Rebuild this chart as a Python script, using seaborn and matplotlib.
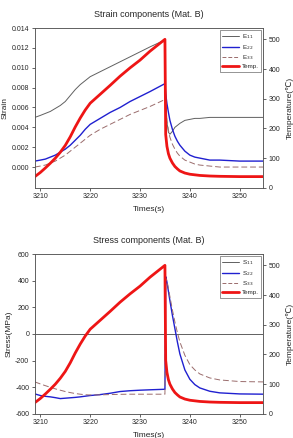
import numpy as np
import pandas as pd
import matplotlib
matplotlib.use('Agg')
import matplotlib.pyplot as plt
import seaborn as sns

sns.set_style('ticks')
plt.rcParams['font.family'] = ['Liberation Sans', 'DejaVu Sans']
plt.rcParams['font.size'] = 5

# shared time grid (s)
time = [3208.9, 3210, 3211, 3212, 3213, 3214, 3215, 3216, 3217, 3218, 3219, 3220,
        3222, 3224, 3226, 3228, 3230, 3232, 3235, 3235.15, 3235.4, 3235.7, 3236,
        3236.5, 3237, 3237.5, 3238, 3239, 3240, 3241, 3242, 3244, 3246, 3250, 3255]

temp = [38, 52, 67, 83, 100, 120, 143, 172, 205, 235, 262, 285,
        315, 345, 376, 404, 430, 460, 500, 180, 140, 115, 100,
        84, 72, 64, 57, 50, 46, 44, 42, 40, 39, 38, 38]

e11 = [0.0050, 0.0052, 0.0054, 0.0056, 0.0059, 0.0062, 0.0066, 0.0072, 0.0078, 0.0083, 0.0087, 0.0091,
       0.0096, 0.0101, 0.0106, 0.0111, 0.0116, 0.0121, 0.0128, 0.0075, 0.0045, 0.0035, 0.0033,
       0.0036, 0.0040, 0.0042, 0.0044, 0.0047, 0.0048, 0.0049, 0.0049, 0.0050, 0.0050, 0.0050, 0.0050]
e22 = [0.0006, 0.0007, 0.0008, 0.0010, 0.0012, 0.0015, 0.0018, 0.0022, 0.0027, 0.0032, 0.0038, 0.0043,
       0.0049, 0.0055, 0.0060, 0.0066, 0.0071, 0.0076, 0.0084, 0.0074, 0.0064, 0.0055, 0.0047,
       0.0038, 0.0031, 0.0026, 0.0022, 0.0016, 0.0012, 0.0010, 0.0009, 0.0007, 0.0007, 0.0006, 0.0006]
e33 = [0.0000, 0.0001, 0.0002, 0.0004, 0.0006, 0.0009, 0.0012, 0.0016, 0.0020, 0.0024, 0.0028, 0.0032,
       0.0038, 0.0043, 0.0048, 0.0053, 0.0057, 0.0061, 0.0068, 0.0058, 0.0047, 0.0037, 0.0030,
       0.0023, 0.0018, 0.0014, 0.0011, 0.0007, 0.0005, 0.0003, 0.0002, 0.0001, 0.0000, 0.0000, 0.0000]

s11 = [0] * len(time)
s22 = [-450, -462, -468, -472, -478, -485, -482, -479, -476, -472, -467, -462,
       -455, -445, -432, -426, -422, -419, -415, 430, 390, 320, 250,
       140, 40, -60, -150, -270, -340, -380, -405, -430, -442, -450, -452]
s33 = [-360, -375, -388, -400, -412, -422, -432, -440, -447, -452, -456, -458,
       -457, -455, -453, -452, -452, -452, -452, 420, 400, 340, 280,
       180, 90, 10, -60, -160, -230, -270, -300, -330, -345, -357, -360]

df = pd.DataFrame({'time': time, 'temp': temp, 'e11': e11, 'e22': e22, 'e33': e33,
                   's11': s11, 's22': s22, 's33': s33})

c_gray = '#606060'
c_blue = '#2020d0'
c_dash = '#9a6c6c'
c_red = '#ee1515'

fig = plt.figure(figsize=(2.93, 4.38), dpi=100)


def panel(rect, cols, labels, title, ylabel, ylim, yticks, fmt):
    ax = fig.add_axes(rect)
    sns.lineplot(data=df, x='time', y=cols[0], ax=ax, color=c_gray, lw=0.7)
    sns.lineplot(data=df, x='time', y=cols[1], ax=ax, color=c_blue, lw=1.0)
    sns.lineplot(data=df, x='time', y=cols[2], ax=ax, color=c_dash, lw=0.7, linestyle=(0, (6, 3)))
    ax.set_xlim(3208.9, 3254.7)
    ax.set_ylim(*ylim)
    ax.set_yticks(yticks)
    ax.set_yticklabels([fmt.format(v) for v in yticks])
    ax.set_xticks([3210, 3220, 3230, 3240, 3250])
    ax.set_xlabel('Times(s)', fontsize=6, labelpad=4)
    ax.set_ylabel(ylabel, fontsize=6, labelpad=2)
    ax.set_title(title, fontsize=6.5, pad=8)
    ax.tick_params(length=2, width=0.5, labelsize=5, pad=2)

    ax2 = ax.twinx()
    sns.lineplot(data=df, x='time', y='temp', ax=ax2, color=c_red, lw=2.0)
    ax2.set_ylim(0, 538)
    ax2.set_yticks([0, 100, 200, 300, 400, 500])
    ax2.set_ylabel('Temperature(\u2103)', fontsize=6, labelpad=4)
    ax2.tick_params(length=2, width=0.5, labelsize=5, pad=2)
    for a in (ax, ax2):
        for s in a.spines.values():
            s.set_linewidth(0.5)
            s.set_color('#555555')

    handles = [plt.Line2D([], [], color=c_gray, lw=0.7),
               plt.Line2D([], [], color=c_blue, lw=1.0),
               plt.Line2D([], [], color=c_dash, lw=0.7, linestyle=(0, (4, 2))),
               plt.Line2D([], [], color=c_red, lw=2.0)]
    leg = ax2.legend(handles, labels + ['Temp.'], loc='upper right', fontsize=4.5,
                     frameon=True, fancybox=False, handlelength=2.6, borderaxespad=0.3,
                     labelspacing=0.25, handletextpad=0.5, borderpad=0.4)
    leg.get_frame().set_edgecolor('#444444')
    leg.get_frame().set_linewidth(0.5)
    return ax, ax2


panel([0.119, 0.571, 0.779, 0.365], ['e11', 'e22', 'e33'],
      ['E$_{11}$', 'E$_{22}$', 'E$_{33}$'], 'Strain components (Mat. B)', 'Strain',
      (-0.0021, 0.014), [0, 0.002, 0.004, 0.006, 0.008, 0.010, 0.012, 0.014], '{:.3f}')

panel([0.119, 0.055, 0.779, 0.365], ['s11', 's22', 's33'],
      ['S$_{11}$', 'S$_{22}$', 'S$_{33}$'], 'Stress components (Mat. B)', 'Stress(MPa)',
      (-600, 600), [-600, -400, -200, 0, 200, 400, 600], '{:.0f}')

fig.savefig('out.png', dpi=100)
